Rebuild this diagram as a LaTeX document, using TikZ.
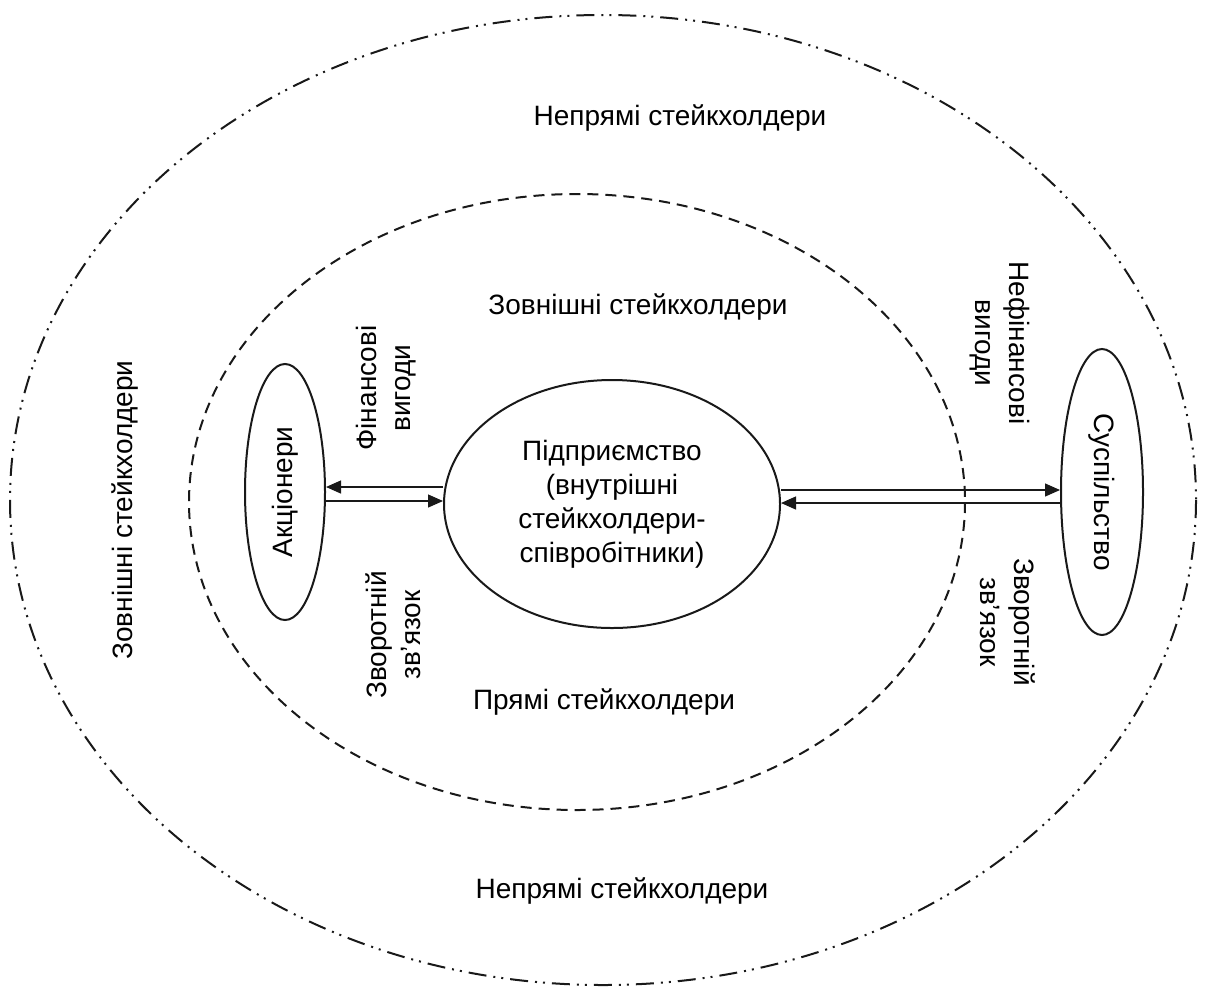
\documentclass[tikz,border=0pt]{standalone}
\usepackage{fontspec}
\setmainfont{Liberation Sans}
\usepackage{tikz}
\usetikzlibrary{positioning,arrows.meta,shapes.geometric,calc}

\begin{document}
\begin{tikzpicture}[
    x=1pt, y=-1pt,
    % --- Shape styles ---
    blob/.style={
      ellipse, draw=black!90, line width=2pt,
      inner sep=0pt, align=center,
      font=\fontsize{28}{34}\selectfont,
    },
    ring/.style={draw=black!90, line width=2pt},
    % --- Text style ---
    lbl/.style={font=\fontsize{28}{34}\selectfont, align=center, inner sep=0pt},
    % --- Arrow style ---
    flow/.style={-{Triangle[length=15pt, width=13pt]}, line width=1.3pt, color=black!90},
  ]

    \useasboundingbox (0,0) rectangle (1206,994);

    % ===================== RINGS =====================
    \draw[ring, dash pattern=on 18pt off 7pt on 2pt off 6pt on 2pt off 7pt]
      (603,500) ellipse [x radius=593, y radius=485];
    \draw[ring, dash pattern=on 11pt off 7pt]
      (577,502) ellipse [x radius=388, y radius=308];

    % ===================== NODES =====================
    \node[blob, minimum width=336pt, minimum height=248pt] (pid) at (612,504)
      {Підприємство\\(внутрішні\\стейкхолдери-\\співробітники)};
    \node[blob, minimum width=80pt, minimum height=256pt]  (akc) at (285,492)
      {\rotatebox{90}{Акціонери}};
    \node[blob, minimum width=82pt, minimum height=286pt]  (sus) at (1102,492)
      {\rotatebox{-90}{Суспільство}};

    % ===================== ARROWS =====================
    \draw[flow] ([yshift=17pt]pid.west) -- ([yshift=17pt]pid.west -| akc.east);
    \draw[flow] ([yshift=3pt]pid.west -| akc.east) -- ([yshift=3pt]pid.west);
    \draw[flow] ([yshift=14pt]pid.east) -- ([yshift=14pt]pid.east -| sus.west);
    \draw[flow] ([yshift=1pt]pid.east -| sus.west) -- ([yshift=1pt]pid.east);

    % ===================== RING LABELS =====================
    \node[lbl] (nep1) at (680,118) {Непрямі стейкхолдери};
    \node[lbl] (zov1) at (638,307) {Зовнішні стейкхолдери};
    \node[lbl] (pry)  at (604,702) {Прямі стейкхолдери};
    \node[lbl] (nep2) at (622,891) {Непрямі стейкхолдери};
    \node[lbl, rotate=90] (zov2) at (125,510) {Зовнішні стейкхолдери};

    % ===================== ARROW LABELS =====================
    \node[lbl, rotate=90]  (fin)  at (386,388)  {Фінансові\\вигоди};
    \node[lbl, rotate=90]  (zv1)  at (393,635)  {Зворотній\\зв’язок};
    \node[lbl, rotate=-90] (nfin) at (1000,343) {Нефінансові\\вигоди};
    \node[lbl, rotate=-90] (zv2)  at (1008,622) {Зворотній\\зв’язок};

  \end{tikzpicture}
\end{document}
